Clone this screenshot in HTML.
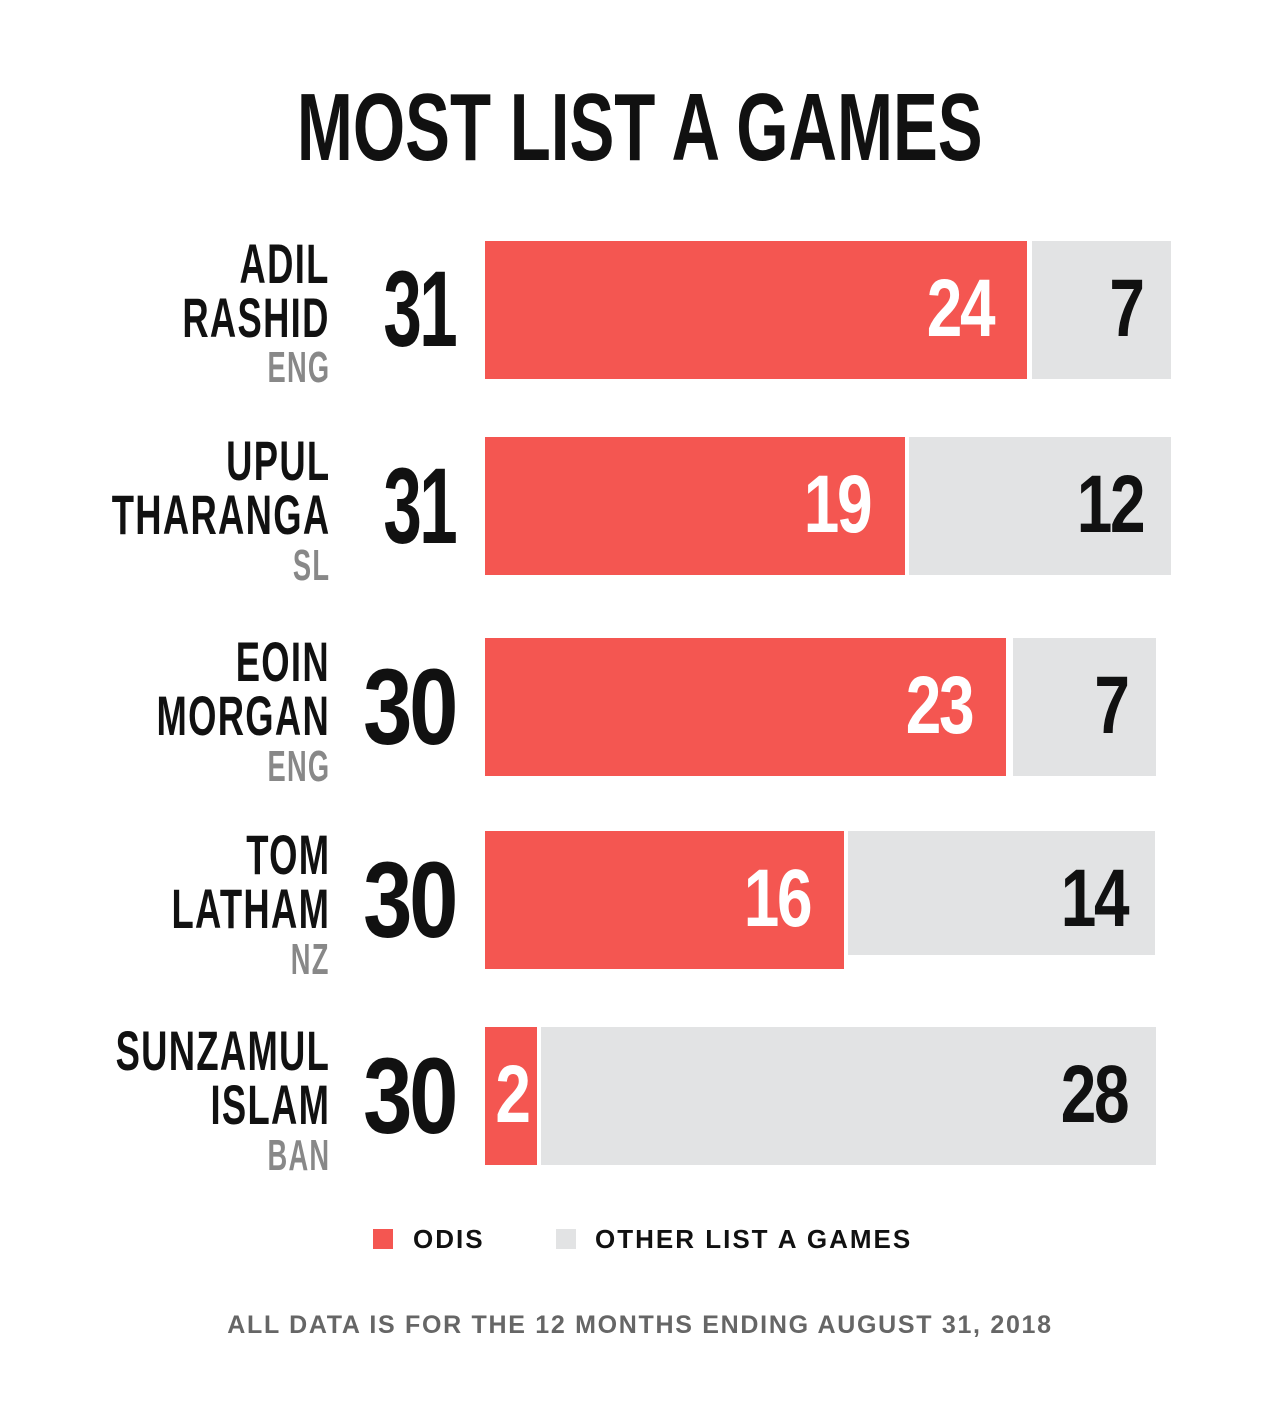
<!DOCTYPE html>
<html><head><meta charset="utf-8"><style>
body{margin:0;background:#fff;width:1280px;height:1426px;position:relative;overflow:hidden;font-family:"Liberation Sans Narrow","Liberation Sans",sans-serif;font-weight:bold}
.a{position:absolute;white-space:nowrap;line-height:1}
.t{left:0;width:1280px;text-align:center;top:80px;font-size:96px;color:#111}
.t span{display:inline-block;transform:scaleX(0.70)}
.n{right:950px;font-size:56px;color:#111;text-align:right;transform:scaleX(0.65);transform-origin:right;letter-spacing:2px}
.c{right:950px;font-size:44px;color:#888;transform:scaleX(0.62);transform-origin:right;letter-spacing:2px}
.b{right:825px;font-size:108px;color:#111;transform:scaleX(0.82);transform-origin:right;letter-spacing:-4px}
.b1{transform:scaleX(0.64)}
.r{position:absolute;background:#f45651}
.g{position:absolute;background:#e2e3e4}
.v{font-size:82px;transform:scaleX(0.78);transform-origin:right;letter-spacing:-3px}
.w{color:#fff}.k{color:#111}
.l{font-family:"Liberation Sans",sans-serif;font-size:26px;letter-spacing:2px;color:#111}
</style></head><body>
<div class="a t"><span>MOST LIST A GAMES</span></div>

<div class="a n" style="top:236px">ADIL</div>
<div class="a n" style="top:290px">RASHID</div>
<div class="a c" style="top:346px">ENG</div>
<div class="a b b1" style="top:255px">31</div>
<div class="r" style="left:485px;top:241px;width:542px;height:138px"></div>
<div class="g" style="left:1032px;top:241px;width:139px;height:138px"></div>
<div class="a v w" style="right:287px;top:268px">24</div>
<div class="a v k" style="right:137px;top:268px">7</div>

<div class="a n" style="top:433px">UPUL</div>
<div class="a n" style="top:487px">THARANGA</div>
<div class="a c" style="top:544px">SL</div>
<div class="a b b1" style="top:452px">31</div>
<div class="r" style="left:485px;top:437px;width:420px;height:138px"></div>
<div class="g" style="left:909px;top:437px;width:262px;height:138px"></div>
<div class="a v w" style="right:410px;top:464px">19</div>
<div class="a v k" style="right:137px;top:464px">12</div>

<div class="a n" style="top:634px">EOIN</div>
<div class="a n" style="top:688px">MORGAN</div>
<div class="a c" style="top:745px">ENG</div>
<div class="a b" style="top:653px">30</div>
<div class="r" style="left:485px;top:638px;width:521px;height:138px"></div>
<div class="g" style="left:1013px;top:638px;width:143px;height:138px"></div>
<div class="a v w" style="right:308px;top:665px">23</div>
<div class="a v k" style="right:152px;top:665px">7</div>

<div class="a n" style="top:827px">TOM</div>
<div class="a n" style="top:881px">LATHAM</div>
<div class="a c" style="top:938px">NZ</div>
<div class="a b" style="top:846px">30</div>
<div class="r" style="left:485px;top:831px;width:359px;height:138px"></div>
<div class="g" style="left:848px;top:831px;width:307px;height:124px"></div>
<div class="a v w" style="right:470px;top:858px">16</div>
<div class="a v k" style="right:153px;top:858px">14</div>

<div class="a n" style="top:1023px">SUNZAMUL</div>
<div class="a n" style="top:1077px">ISLAM</div>
<div class="a c" style="top:1134px">BAN</div>
<div class="a b" style="top:1042px">30</div>
<div class="r" style="left:485px;top:1027px;width:52px;height:138px"></div>
<div class="g" style="left:541px;top:1027px;width:615px;height:138px"></div>
<div class="a v w" style="right:751px;top:1054px">2</div>
<div class="a v k" style="right:153px;top:1054px">28</div>

<div class="r" style="left:373px;top:1229px;width:20px;height:20px"></div>
<div class="a l" style="left:413px;top:1226px">ODIS</div>
<div class="g" style="left:556px;top:1229px;width:20px;height:20px"></div>
<div class="a l" style="left:595px;top:1226px">OTHER LIST A GAMES</div>
<div class="a l" style="left:0;width:1280px;text-align:center;top:1313px;color:#666;font-size:25px;letter-spacing:1.7px">ALL DATA IS FOR THE 12 MONTHS ENDING AUGUST 31, 2018</div>
</body></html>
